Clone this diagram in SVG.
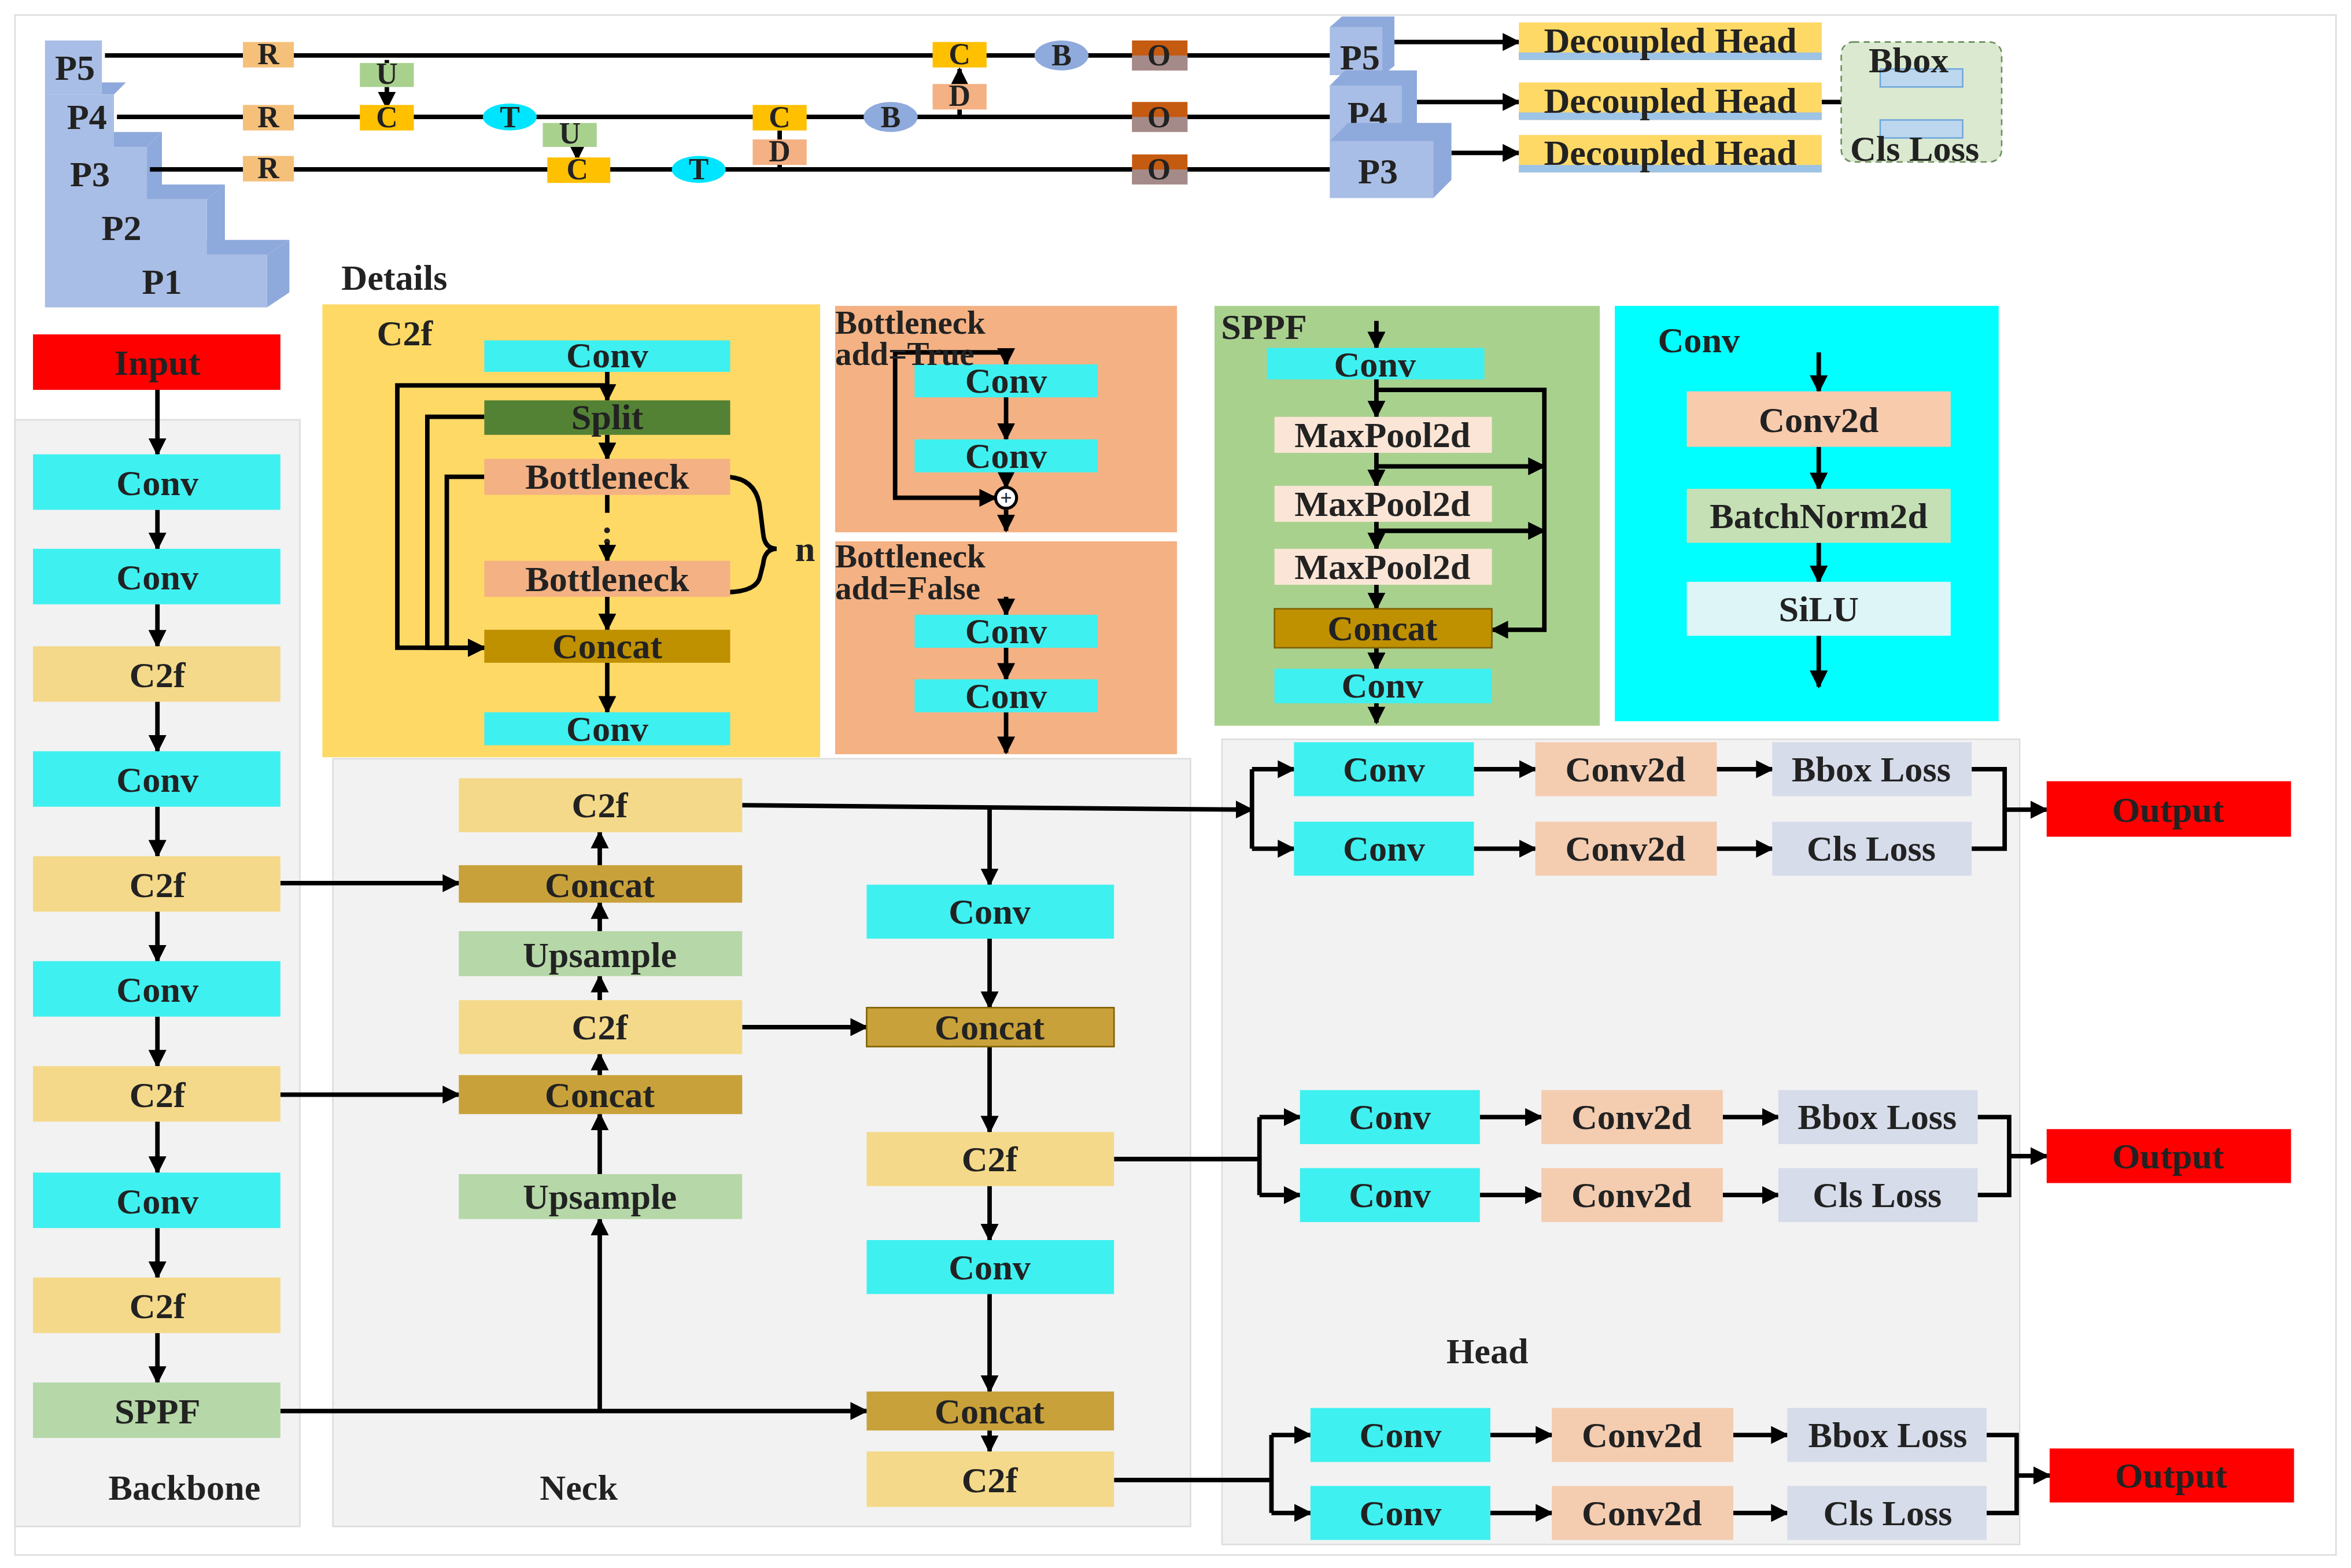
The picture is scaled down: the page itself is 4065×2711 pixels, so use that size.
<svg xmlns="http://www.w3.org/2000/svg" width="4065" height="2711" viewBox="0 0 4065 2711">
<defs>
<marker id="ah" viewBox="0 0 10 10" refX="9" refY="5" markerWidth="4" markerHeight="4" orient="auto-start-reverse"><path d="M0,0 L10,5 L0,10 z" fill="#000"/></marker>
<style>
text{font-family:"Liberation Serif",serif;font-weight:bold;font-size:24px;text-anchor:middle;dominant-baseline:central;fill:#222}
.t{text-anchor:start;font-size:22px}
.l{stroke:#000;stroke-width:3;fill:none}
.a{stroke:#000;stroke-width:3;fill:none;marker-end:url(#ah)}
.cv{fill:#3ff0f0}.c2{fill:#f4d98a}.cc{fill:#c9a13a}.up{fill:#b6d7a8}.c2d{fill:#f4ccb0}.ls{fill:#d6dcea}.out{fill:#ff0000}
.sm{font-size:20px}
</style>
</defs>
<rect width="4065" height="2711" fill="#fff"/>
<g transform="scale(2.5925)">
<rect x="10" y="10" width="1548" height="1027" fill="none" stroke="#ddd"/>
<rect x="10" y="280" width="190" height="738" fill="#f2f2f2" stroke="#ddd"/>
<rect x="222" y="506" width="572" height="512" fill="#f2f2f2" stroke="#ddd"/>
<rect x="815" y="493" width="532" height="537" fill="#f2f2f2" stroke="#ddd"/>
<text x="123" y="992">Backbone</text><text x="386" y="992">Neck</text><text x="992" y="901">Head</text>
<text x="263" y="185">Details</text>

<g id="pyramid">
<path d="M30,170 L45,160 L193,160 L178,170 Z" fill="#8ea9db"/><path d="M178,170 L193,160 L193,195 L178,205 Z" fill="#8ea9db"/><rect x="30" y="170" width="148" height="35" fill="#a9bee6"/><text x="108" y="188">P1</text>
<path d="M30,133 L42,123 L150,123 L138,133 Z" fill="#8ea9db"/><path d="M138,133 L150,123 L150,162 L138,170 Z" fill="#8ea9db"/><rect x="30" y="133" width="108" height="37" fill="#a9bee6"/><text x="81" y="152">P2</text>
<path d="M30,98 L40,88 L108,88 L98,98 Z" fill="#8ea9db"/><path d="M98,98 L108,88 L108,125 L98,133 Z" fill="#8ea9db"/><rect x="30" y="98" width="68" height="35" fill="#a9bee6"/><text x="60" y="116">P3</text>
<path d="M30,63 L38,55 L84,55 L76,63 Z" fill="#8ea9db"/><rect x="30" y="63" width="46" height="35" fill="#a9bee6"/><text x="58" y="78">P4</text>
<rect x="30" y="27" width="38" height="36" fill="#a9bee6"/><text x="50" y="45">P5</text>
</g>
<g id="toplines">
<line class="l" x1="70" y1="37" x2="887" y2="37"/>
<line class="l" x1="78" y1="78" x2="887" y2="78"/>
<line class="l" x1="100" y1="113" x2="887" y2="113"/>
<line class="l" x1="258" y1="40" x2="258" y2="50"/>
<line class="a" x1="258" y1="58" x2="258" y2="72"/>
<line class="a" x1="385" y1="98" x2="385" y2="106"/>
<line class="a" x1="640" y1="56" x2="640" y2="46"/>
<line class="l" x1="640" y1="73" x2="640" y2="78"/>
<line class="l" x1="520" y1="87" x2="520" y2="113"/>
<line class="a" x1="930" y1="28" x2="1013" y2="28"/>
<line class="a" x1="945" y1="68" x2="1013" y2="68"/>
<line class="a" x1="968" y1="102" x2="1013" y2="102"/>
<line class="l" x1="1215" y1="68" x2="1240" y2="68"/>
<line class="l" x1="1240" y1="52" x2="1240" y2="86"/>
<line class="a" x1="1240" y1="52" x2="1254" y2="52"/>
<line class="a" x1="1240" y1="86" x2="1254" y2="86"/>
</g>
<g id="topnodes">
<rect x="162" y="28" width="34" height="17" fill="#f5c07a"/><text x="179" y="36" class="sm">R</text>
<rect x="162" y="70" width="34" height="17" fill="#f5c07a"/><text x="179" y="78" class="sm">R</text>
<rect x="162" y="104" width="34" height="17" fill="#f5c07a"/><text x="179" y="112" class="sm">R</text>
<rect x="240" y="42" width="36" height="16" fill="#a9d18e"/><text x="258" y="49" class="sm">U</text>
<rect x="240" y="70" width="36" height="17" fill="#ffc000"/><text x="258" y="78" class="sm">C</text>
<ellipse cx="340" cy="78" rx="18" ry="9" fill="#00e5ff"/><text x="340" y="78" class="sm">T</text>
<rect x="362" y="82" width="36" height="16" fill="#a9d18e"/><text x="380" y="89" class="sm">U</text>
<rect x="365" y="105" width="42" height="17" fill="#ffc000"/><text x="385" y="113" class="sm">C</text>
<ellipse cx="466" cy="113" rx="18" ry="9" fill="#00e5ff"/><text x="466" y="113" class="sm">T</text>
<rect x="502" y="70" width="36" height="17" fill="#ffc000"/><text x="520" y="78" class="sm">C</text>
<rect x="502" y="93" width="36" height="17" fill="#f4b183"/><text x="520" y="101" class="sm">D</text>
<ellipse cx="594" cy="78" rx="18" ry="10" fill="#8faadc"/><text x="594" y="78" class="sm">B</text>
<rect x="622" y="28" width="36" height="17" fill="#ffc000"/><text x="640" y="36" class="sm">C</text>
<rect x="622" y="56" width="36" height="17" fill="#f4b183"/><text x="640" y="64" class="sm">D</text>
<ellipse cx="708" cy="37" rx="18" ry="10" fill="#8faadc"/><text x="708" y="37" class="sm">B</text>
<rect x="755" y="27" width="37" height="20" fill="#c55a11"/><rect x="755" y="37" width="37" height="10" fill="#8faadc" opacity="0.6"/><text x="773" y="37" class="sm">O</text>
<rect x="755" y="68" width="37" height="20" fill="#c55a11"/><rect x="755" y="78" width="37" height="10" fill="#8faadc" opacity="0.6"/><text x="773" y="78" class="sm">O</text>
<rect x="755" y="103" width="37" height="20" fill="#c55a11"/><rect x="755" y="113" width="37" height="10" fill="#8faadc" opacity="0.6"/><text x="773" y="113" class="sm">O</text>
</g>
<g id="rightP">
<path d="M887,18 L895,11 L930,11 L930,44 L922,50 L887,50Z" fill="#8ea9db"/><rect x="887" y="18" width="35" height="32" fill="#a9bee6"/><text x="907" y="38">P5</text>
<path d="M887,57 L897,47 L945,47 L945,85 L935,95 L887,95Z" fill="#8ea9db"/><rect x="887" y="57" width="48" height="38" fill="#a9bee6"/><text x="912" y="76">P4</text>
<path d="M887,94 L899,82 L968,82 L968,120 L956,132 L887,132Z" fill="#8ea9db"/><rect x="887" y="94" width="69" height="38" fill="#a9bee6"/><text x="919" y="114">P3</text>
</g>
<g id="dheads">
<rect x="1013" y="15" width="202" height="25" fill="#ffd966"/><rect x="1013" y="35" width="202" height="5" fill="#9dc3e6"/><text x="1114" y="27">Decoupled Head</text>
<rect x="1013" y="55" width="202" height="25" fill="#ffd966"/><rect x="1013" y="75" width="202" height="5" fill="#9dc3e6"/><text x="1114" y="67">Decoupled Head</text>
<rect x="1013" y="90" width="202" height="25" fill="#ffd966"/><rect x="1013" y="110" width="202" height="5" fill="#9dc3e6"/><text x="1114" y="102">Decoupled Head</text>
<rect x="1228" y="28" width="107" height="80" rx="8" fill="#dbe9d0" stroke="#6a8f5a" stroke-dasharray="4,3"/>
<rect x="1254" y="46" width="55" height="12" fill="#bdd7ee" stroke="#6fa8dc"/>
<rect x="1254" y="80" width="55" height="12" fill="#bdd7ee" stroke="#6fa8dc"/>
<text x="1273" y="40">Bbox</text><text x="1277" y="99">Cls Loss</text>
</g>

<g id="c2f-detail">
<rect x="215" y="203" width="332" height="302" fill="#ffd966"/>
<text x="270" y="222">C2f</text>
<line class="a" x1="405" y1="248" x2="405" y2="267"/>
<line class="a" x1="405" y1="290" x2="405" y2="306"/>
<line class="l" x1="405" y1="330" x2="405" y2="342"/>
<text x="405" y="355">:</text>
<line class="a" x1="405" y1="362" x2="405" y2="374"/>
<line class="a" x1="405" y1="398" x2="405" y2="420"/>
<line class="a" x1="405" y1="442" x2="405" y2="475"/>
<path class="a" d="M405,257 L265,257 L265,432 L323,432"/>
<path class="a" d="M323,278 L285,278 L285,432 L323,432"/>
<path class="a" d="M323,318 L298,318 L298,432 L323,432"/>
<path class="l" d="M483,318 Q505,318 507,340 L509,356 Q510,366 518,366 Q510,366 509,376 L507,384 Q505,395 483,395"/>
<text x="537" y="366">n</text>
<rect x="323" y="227" width="164" height="21" class="cv"/><text x="405" y="237">Conv</text>
<rect x="323" y="267" width="164" height="23" fill="#548235"/><text x="405" y="278">Split</text>
<rect x="323" y="306" width="164" height="24" fill="#f4b183"/><text x="405" y="318">Bottleneck</text>
<rect x="323" y="374" width="164" height="24" fill="#f4b183"/><text x="405" y="386">Bottleneck</text>
<rect x="323" y="420" width="164" height="22" fill="#bf9000"/><text x="405" y="431">Concat</text>
<rect x="323" y="475" width="164" height="22" class="cv"/><text x="405" y="486">Conv</text>
</g>
<g id="bn-true">
<rect x="557" y="204" width="228" height="151" fill="#f4b183"/>
<line class="a" x1="671" y1="235" x2="671" y2="243"/>
<line class="a" x1="671" y1="265" x2="671" y2="293"/>
<line class="a" x1="671" y1="315" x2="671" y2="325"/>
<line class="a" x1="671" y1="340" x2="671" y2="354"/>
<path class="a" d="M671,235 L597,235 L597,332 L664,332"/>
<circle cx="671" cy="332" r="7" fill="#fff" stroke="#000" stroke-width="2"/><text x="671" y="332" style="font-size:14px">+</text>
<rect x="610" y="243" width="122" height="22" class="cv"/><text x="671" y="254">Conv</text>
<rect x="610" y="293" width="122" height="22" class="cv"/><text x="671" y="304">Conv</text>
<text x="557" y="215" class="t">Bottleneck</text><text x="557" y="236" class="t">add=True</text>
</g>
<g id="bn-false">
<rect x="557" y="361" width="228" height="142" fill="#f4b183"/>
<line class="a" x1="671" y1="398" x2="671" y2="410"/>
<line class="a" x1="671" y1="432" x2="671" y2="453"/>
<line class="a" x1="671" y1="475" x2="671" y2="502"/>
<rect x="610" y="410" width="122" height="22" class="cv"/><text x="671" y="421">Conv</text>
<rect x="610" y="453" width="122" height="22" class="cv"/><text x="671" y="464">Conv</text>
<text x="557" y="371" class="t">Bottleneck</text><text x="557" y="392" class="t">add=False</text>
</g>
<g id="sppf-detail">
<rect x="810" y="204" width="257" height="280" fill="#a9d18e"/>
<text x="843" y="218">SPPF</text>
<line class="a" x1="918" y1="214" x2="918" y2="232"/>
<line class="a" x1="918" y1="253" x2="918" y2="278"/>
<line class="a" x1="918" y1="302" x2="918" y2="324"/>
<line class="a" x1="918" y1="348" x2="918" y2="366"/>
<line class="a" x1="918" y1="390" x2="918" y2="406"/>
<line class="a" x1="918" y1="432" x2="918" y2="446"/>
<line class="a" x1="918" y1="469" x2="918" y2="482"/>
<path class="a" d="M918,260 L1030,260 L1030,420 L995,420"/>
<line class="a" x1="918" y1="311" x2="1030" y2="311"/>
<line class="a" x1="918" y1="354" x2="1030" y2="354"/>
<rect x="845" y="232" width="145" height="21" class="cv"/><text x="917" y="243">Conv</text>
<rect x="850" y="278" width="145" height="24" fill="#fbe5d6"/><text x="922" y="290">MaxPool2d</text>
<rect x="850" y="324" width="145" height="24" fill="#fbe5d6"/><text x="922" y="336">MaxPool2d</text>
<rect x="850" y="366" width="145" height="24" fill="#fbe5d6"/><text x="922" y="378">MaxPool2d</text>
<rect x="850" y="406" width="145" height="26" fill="#bf9000" stroke="#7f6000"/><text x="922" y="419">Concat</text>
<rect x="850" y="446" width="145" height="23" class="cv"/><text x="922" y="457">Conv</text>
</g>
<g id="conv-detail">
<rect x="1077" y="204" width="256" height="277" fill="#00ffff"/>
<text x="1133" y="227">Conv</text>
<line class="a" x1="1213" y1="235" x2="1213" y2="261"/>
<line class="a" x1="1213" y1="298" x2="1213" y2="326"/>
<line class="a" x1="1213" y1="362" x2="1213" y2="388"/>
<line class="a" x1="1213" y1="424" x2="1213" y2="458"/>
<rect x="1125" y="261" width="176" height="37" fill="#f8cbad"/><text x="1213" y="280">Conv2d</text>
<rect x="1125" y="326" width="176" height="36" fill="#c5e0b4"/><text x="1213" y="344">BatchNorm2d</text>
<rect x="1125" y="388" width="176" height="36" fill="#ddf5f7"/><text x="1213" y="406">SiLU</text>
</g>

<g id="connectors">
<line class="a" x1="105" y1="260" x2="105" y2="303"/>
<line class="a" x1="105" y1="340" x2="105" y2="366"/>
<line class="a" x1="105" y1="403" x2="105" y2="431"/>
<line class="a" x1="105" y1="468" x2="105" y2="501"/>
<line class="a" x1="105" y1="538" x2="105" y2="571"/>
<line class="a" x1="105" y1="608" x2="105" y2="641"/>
<line class="a" x1="105" y1="678" x2="105" y2="711"/>
<line class="a" x1="105" y1="748" x2="105" y2="782"/>
<line class="a" x1="105" y1="819" x2="105" y2="852"/>
<line class="a" x1="105" y1="889" x2="105" y2="922"/>
<line class="a" x1="187" y1="589" x2="306" y2="589"/>
<line class="a" x1="187" y1="730" x2="306" y2="730"/>
<line class="a" x1="187" y1="941" x2="578" y2="941"/>
<line class="a" x1="400" y1="941" x2="400" y2="813"/>
<line class="a" x1="400" y1="783" x2="400" y2="743"/>
<line class="a" x1="400" y1="717" x2="400" y2="703"/>
<line class="a" x1="400" y1="667" x2="400" y2="651"/>
<line class="a" x1="400" y1="621" x2="400" y2="602"/>
<line class="a" x1="400" y1="577" x2="400" y2="555"/>
<path class="a" d="M495,537 L835,540"/>
<line class="a" x1="660" y1="538" x2="660" y2="590"/>
<line class="a" x1="495" y1="685" x2="578" y2="685"/>
<line class="a" x1="660" y1="626" x2="660" y2="672"/>
<line class="a" x1="660" y1="698" x2="660" y2="755"/>
<line class="a" x1="660" y1="791" x2="660" y2="827"/>
<line class="a" x1="660" y1="863" x2="660" y2="928"/>
<line class="a" x1="660" y1="954" x2="660" y2="968"/>
<line class="l" x1="743" y1="773" x2="840" y2="773"/>
<line class="l" x1="743" y1="987" x2="848" y2="987"/>
<path class="l" d="M835,513 L835,566"/><line class="a" x1="835" y1="513" x2="863" y2="513"/><line class="a" x1="835" y1="566" x2="863" y2="566"/>
<line class="a" x1="983" y1="513" x2="1024" y2="513"/><line class="a" x1="983" y1="566" x2="1024" y2="566"/>
<line class="a" x1="1145" y1="513" x2="1182" y2="513"/><line class="a" x1="1145" y1="566" x2="1182" y2="566"/>
<path class="l" d="M1315,513 L1337,513 L1337,566 L1315,566"/><line class="a" x1="1337" y1="540" x2="1365" y2="540"/>
<path class="l" d="M840,745 L840,797"/><line class="a" x1="840" y1="745" x2="867" y2="745"/><line class="a" x1="840" y1="797" x2="867" y2="797"/>
<line class="a" x1="987" y1="745" x2="1028" y2="745"/><line class="a" x1="987" y1="797" x2="1028" y2="797"/>
<line class="a" x1="1149" y1="745" x2="1186" y2="745"/><line class="a" x1="1149" y1="797" x2="1186" y2="797"/>
<path class="l" d="M1319,745 L1340,745 L1340,797 L1319,797"/><line class="a" x1="1340" y1="771" x2="1365" y2="771"/>
<path class="l" d="M848,957 L848,1009"/><line class="a" x1="848" y1="957" x2="874" y2="957"/><line class="a" x1="848" y1="1009" x2="874" y2="1009"/>
<line class="a" x1="994" y1="957" x2="1035" y2="957"/><line class="a" x1="994" y1="1009" x2="1035" y2="1009"/>
<line class="a" x1="1156" y1="957" x2="1192" y2="957"/><line class="a" x1="1156" y1="1009" x2="1192" y2="1009"/>
<path class="l" d="M1325,957 L1345,957 L1345,1009 L1325,1009"/><line class="a" x1="1345" y1="984" x2="1367" y2="984"/>
</g>

<g id="input"><rect x="22" y="223" width="165" height="37" class="out"/><text x="105" y="242">Input</text></g>
<g id="b1"><rect x="22" y="303" width="165" height="37" class="cv"/><text x="105" y="322">Conv</text></g>
<g id="b2"><rect x="22" y="366" width="165" height="37" class="cv"/><text x="105" y="385">Conv</text></g>
<g id="b3"><rect x="22" y="431" width="165" height="37" class="c2"/><text x="105" y="450">C2f</text></g>
<g id="b4"><rect x="22" y="501" width="165" height="37" class="cv"/><text x="105" y="520">Conv</text></g>
<g id="b5"><rect x="22" y="571" width="165" height="37" class="c2"/><text x="105" y="590">C2f</text></g>
<g id="b6"><rect x="22" y="641" width="165" height="37" class="cv"/><text x="105" y="660">Conv</text></g>
<g id="b7"><rect x="22" y="711" width="165" height="37" class="c2"/><text x="105" y="730">C2f</text></g>
<g id="b8"><rect x="22" y="782" width="165" height="37" class="cv"/><text x="105" y="801">Conv</text></g>
<g id="b9"><rect x="22" y="852" width="165" height="37" class="c2"/><text x="105" y="871">C2f</text></g>
<g id="b10"><rect x="22" y="922" width="165" height="37" class="up"/><text x="105" y="941">SPPF</text></g>
<g id="n1"><rect x="306" y="519" width="189" height="36" class="c2"/><text x="400" y="537">C2f</text></g>
<g id="n2"><rect x="306" y="577" width="189" height="25" class="cc"/><text x="400" y="590">Concat</text></g>
<g id="n3"><rect x="306" y="621" width="189" height="30" class="up"/><text x="400" y="637">Upsample</text></g>
<g id="n4"><rect x="306" y="667" width="189" height="36" class="c2"/><text x="400" y="685">C2f</text></g>
<g id="n5"><rect x="306" y="717" width="189" height="26" class="cc"/><text x="400" y="730">Concat</text></g>
<g id="n6"><rect x="306" y="783" width="189" height="30" class="up"/><text x="400" y="798">Upsample</text></g>
<g id="n7"><rect x="578" y="590" width="165" height="36" class="cv"/><text x="660" y="608">Conv</text></g>
<g id="n8"><rect x="578" y="672" width="165" height="26" class="cc" stroke="#7f6000"/><text x="660" y="685">Concat</text></g>
<g id="n9"><rect x="578" y="755" width="165" height="36" class="c2"/><text x="660" y="773">C2f</text></g>
<g id="n10"><rect x="578" y="827" width="165" height="36" class="cv"/><text x="660" y="845">Conv</text></g>
<g id="n11"><rect x="578" y="928" width="165" height="26" class="cc"/><text x="660" y="941">Concat</text></g>
<g id="n12"><rect x="578" y="968" width="165" height="37" class="c2"/><text x="660" y="987">C2f</text></g>
<g id="h1">
<rect x="863" y="495" width="120" height="36" class="cv"/><text x="923" y="513">Conv</text>
<rect x="863" y="548" width="120" height="36" class="cv"/><text x="923" y="566">Conv</text>
<rect x="1024" y="495" width="121" height="36" class="c2d"/><text x="1084" y="513">Conv2d</text>
<rect x="1024" y="548" width="121" height="36" class="c2d"/><text x="1084" y="566">Conv2d</text>
<rect x="1182" y="495" width="133" height="36" class="ls"/><text x="1248" y="513">Bbox Loss</text>
<rect x="1182" y="548" width="133" height="36" class="ls"/><text x="1248" y="566">Cls Loss</text>
<rect x="1365" y="521" width="163" height="37" class="out"/><text x="1446" y="540">Output</text>
</g>
<g id="h2">
<rect x="867" y="727" width="120" height="36" class="cv"/><text x="927" y="745">Conv</text>
<rect x="867" y="779" width="120" height="36" class="cv"/><text x="927" y="797">Conv</text>
<rect x="1028" y="727" width="121" height="36" class="c2d"/><text x="1088" y="745">Conv2d</text>
<rect x="1028" y="779" width="121" height="36" class="c2d"/><text x="1088" y="797">Conv2d</text>
<rect x="1186" y="727" width="133" height="36" class="ls"/><text x="1252" y="745">Bbox Loss</text>
<rect x="1186" y="779" width="133" height="36" class="ls"/><text x="1252" y="797">Cls Loss</text>
<rect x="1365" y="753" width="163" height="36" class="out"/><text x="1446" y="771">Output</text>
</g>
<g id="h3">
<rect x="874" y="939" width="120" height="36" class="cv"/><text x="934" y="957">Conv</text>
<rect x="874" y="991" width="120" height="36" class="cv"/><text x="934" y="1009">Conv</text>
<rect x="1035" y="939" width="121" height="36" class="c2d"/><text x="1095" y="957">Conv2d</text>
<rect x="1035" y="991" width="121" height="36" class="c2d"/><text x="1095" y="1009">Conv2d</text>
<rect x="1192" y="939" width="133" height="36" class="ls"/><text x="1259" y="957">Bbox Loss</text>
<rect x="1192" y="991" width="133" height="36" class="ls"/><text x="1259" y="1009">Cls Loss</text>
<rect x="1367" y="966" width="163" height="36" class="out"/><text x="1448" y="984">Output</text>
</g>
</g>
</svg>
